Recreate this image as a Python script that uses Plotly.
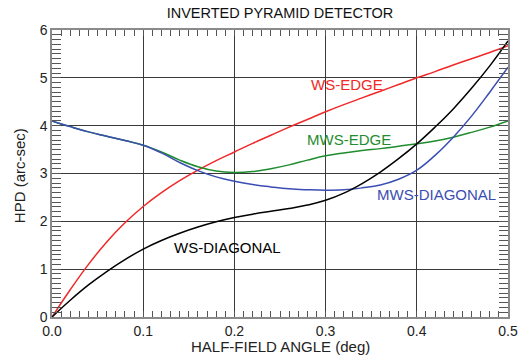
import plotly.graph_objects as go

x_vals = [0.00, 0.02, 0.04, 0.06, 0.08, 0.10, 0.12, 0.14, 0.16, 0.18, 0.20, 0.22, 0.24,
          0.26, 0.28, 0.30, 0.32, 0.34, 0.36, 0.38, 0.40, 0.42, 0.44, 0.46, 0.48, 0.50]

ws_edge = [0.00, 0.57, 1.10, 1.57, 1.97, 2.31, 2.60, 2.85, 3.07, 3.27, 3.45, 3.63, 3.80,
           3.97, 4.13, 4.29, 4.44, 4.58, 4.72, 4.86, 5.00, 5.13, 5.27, 5.40, 5.53, 5.67]

ws_diagonal = [0.00, 0.35, 0.67, 0.95, 1.20, 1.42, 1.60, 1.75, 1.88, 1.99, 2.08, 2.15, 2.21,
               2.27, 2.34, 2.44, 2.59, 2.79, 3.03, 3.31, 3.62, 3.97, 4.35, 4.78, 5.25, 5.77]

mws_edge = [4.10, 3.98, 3.87, 3.78, 3.69, 3.59, 3.45, 3.28, 3.14, 3.05, 3.02, 3.04, 3.10,
            3.18, 3.28, 3.37, 3.43, 3.48, 3.52, 3.57, 3.62, 3.68, 3.76, 3.86, 3.97, 4.10]

mws_diagonal = [4.10, 3.98, 3.87, 3.78, 3.69, 3.59, 3.43, 3.23, 3.06, 2.93, 2.84, 2.77, 2.72,
                2.68, 2.66, 2.65, 2.66, 2.70, 2.76, 2.88, 3.07, 3.38, 3.76, 4.20, 4.70, 5.22]

labels = ["WS-EDGE", "MWS-EDGE", "MWS-DIAGONAL", "WS-DIAGONAL"]
label_x = [0.324, 0.326, 0.4215, 0.192]
label_y = [4.87, 3.71, 2.57, 1.46]

colors = ["#f02828", "#1f8c2e", "#3b4db3", "#000000"]
series = [ws_edge, mws_edge, mws_diagonal, ws_diagonal]

FONT = "Liberation Sans, Arial, sans-serif"

fig = go.Figure()
for ys, c, name in zip(series, colors, labels):
    fig.add_trace(go.Scatter(x=x_vals, y=ys, mode="lines", name=name,
                             line=dict(color=c, width=1.5, shape="spline", smoothing=1.2),
                             showlegend=False, hoverinfo="skip"))

for t, lx, ly, c in zip(labels, label_x, label_y, colors):
    fig.add_annotation(x=lx, y=ly, text=t, showarrow=False,
                       font=dict(family=FONT, size=15, color=c),
                       xanchor="center", yanchor="middle")

# axis titles
fig.add_annotation(xref="paper", yref="paper", x=(280 - 52) / (519 - 52 - 11),
                   y=-(346 - 316.7) / (357 - 30 - 40.3), text="HALF-FIELD ANGLE (deg)",
                   showarrow=False, xanchor="center", yanchor="middle",
                   font=dict(family=FONT, size=15, color="#222222"))
fig.add_annotation(xref="paper", yref="paper", x=-(52 - 19) / (519 - 52 - 11),
                   y=(316.7 - 176) / (357 - 30 - 40.3), text="HPD (arc-sec)", textangle=-90,
                   showarrow=False, xanchor="center", yanchor="middle",
                   font=dict(family=FONT, size=15, color="#222222"))

axis_common = dict(
    showgrid=True, gridcolor="#3a3a3a", gridwidth=1,
    showline=True, linecolor="#8a8a8a", linewidth=1.5, mirror="allticks",
    ticks="inside", tickcolor="#555555", tickwidth=1,
    zeroline=False, automargin=False,
    tickfont=dict(family=FONT, size=14, color="#222222"),
)

fig.update_xaxes(range=[0, 0.5], dtick=0.1, tickformat=".1f", ticklen=6,
                 minor=dict(dtick=0.01, ticks="inside", ticklen=6, tickcolor="#555555",
                            tickwidth=1, showgrid=False),
                 **axis_common)
fig.update_yaxes(range=[0, 6], dtick=1, ticklen=9,
                 minor=dict(dtick=0.1, ticks="inside", ticklen=9, tickcolor="#555555",
                            tickwidth=1, showgrid=False),
                 **axis_common)

fig.update_layout(
    width=519, height=357,
    margin=dict(l=52, r=11, t=30, b=40.3),
    paper_bgcolor="white", plot_bgcolor="white",
    title=dict(text="INVERTED PYRAMID DETECTOR", x=280 / 519, xanchor="center",
               y=1 - 12.5 / 357, yanchor="middle",
               font=dict(family=FONT, size=14.5, color="#111111")),
)

fig.write_html("out.html", config={"displayModeBar": False},
               post_script="document.body.style.margin='0';")
